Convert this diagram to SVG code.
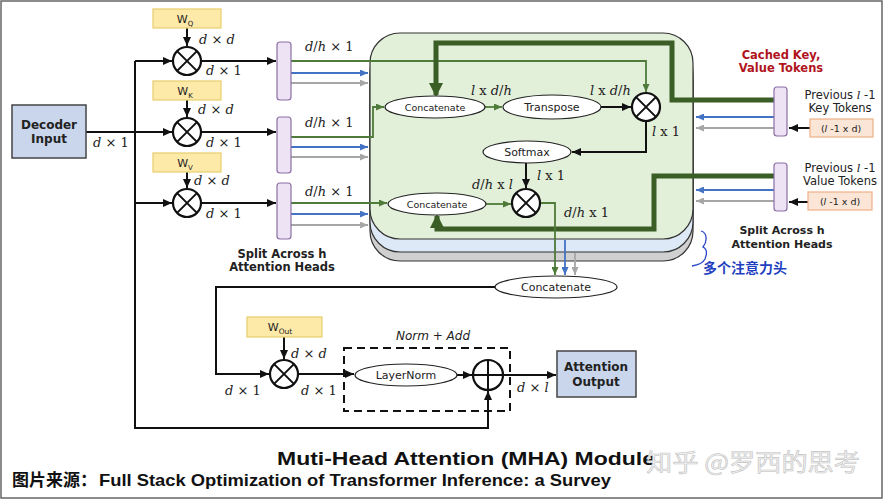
<svg xmlns="http://www.w3.org/2000/svg" width="884" height="500" viewBox="0 0 884 500">
<style>
.ln{fill:none;stroke:#111;stroke-width:2}
.gl{fill:none;stroke:#4e7a3a;stroke-width:1.8}
.gt{fill:none;stroke:#3a5e25;stroke-width:5}
.bl{fill:none;stroke:#4472c4;stroke-width:1.8}
.gr{fill:none;stroke:#a6a6a6;stroke-width:1.8}
.op{fill:#fff;stroke:#111;stroke-width:2.2}
.ell{fill:#fff;stroke:#222;stroke-width:1.2}
.w{fill:#fde9a8;stroke:#e6cf6e;stroke-width:1.2}
.bar{fill:#eee3f5;stroke:#8c6ea6;stroke-width:1.2}
.tok{fill:#fbe5d6;stroke:#eeb088;stroke-width:1.2}
.io{fill:#c9d6ec;stroke:#444;stroke-width:1.5}
.t{font-family:"DejaVu Sans","Liberation Sans",sans-serif;fill:#222;text-anchor:middle}
.b{font-weight:bold}
.m{font-family:"DejaVu Serif","Liberation Serif",serif;font-size:13px;fill:#222}
.i{font-style:italic}
</style>
<defs>
<marker id="ak" markerUnits="userSpaceOnUse" markerWidth="9" markerHeight="8" refX="9" refY="4" orient="auto"><path d="M0,0 L9,4 L0,8 z" fill="#111"/></marker>
<marker id="ag" markerUnits="userSpaceOnUse" markerWidth="8" markerHeight="7" refX="8" refY="3.5" orient="auto"><path d="M0,0 L8,3.5 L0,7 z" fill="#4e7a3a"/></marker>
<marker id="ab" markerUnits="userSpaceOnUse" markerWidth="8" markerHeight="7" refX="8" refY="3.5" orient="auto"><path d="M0,0 L8,3.5 L0,7 z" fill="#4472c4"/></marker>
<marker id="ay" markerUnits="userSpaceOnUse" markerWidth="8" markerHeight="7" refX="8" refY="3.5" orient="auto"><path d="M0,0 L8,3.5 L0,7 z" fill="#a6a6a6"/></marker>
<marker id="aG" markerUnits="userSpaceOnUse" markerWidth="14" markerHeight="14" refX="12" refY="7" orient="auto"><path d="M0,0 L14,7 L0,14 z" fill="#3a5e25"/></marker>
</defs>

<rect x="1" y="1" width="881" height="497" fill="#fff" stroke="#666" stroke-width="1.5"/>

<g id="heads-box">
<rect x="370" y="53" width="323" height="208" rx="30" fill="#d0d0d0" stroke="#333" stroke-width="1.2"/>
<rect x="370" y="43" width="323" height="209" rx="30" fill="#dde9f6" stroke="#333" stroke-width="1.2"/>
<rect x="370" y="33" width="323" height="206" rx="30" fill="#e2efd9" stroke="#333" stroke-width="1.2"/>
</g>

<g id="connectors">
<path class="ln" d="M86,132 H172" marker-end="url(#ak)"/>
<path class="ln" d="M135,61 H172" marker-end="url(#ak)"/>
<path class="ln" d="M135,203 H172" marker-end="url(#ak)"/>
<path class="ln" d="M135,61 V428 H488 V391" marker-end="url(#ak)"/>
<path class="ln" d="M187,28 V46" marker-end="url(#ak)"/>
<path class="ln" d="M187,100 V117" marker-end="url(#ak)"/>
<path class="ln" d="M187,172 V188" marker-end="url(#ak)"/>
<path class="ln" d="M201,61 H276" marker-end="url(#ak)"/>
<path class="ln" d="M201,132 H276" marker-end="url(#ak)"/>
<path class="ln" d="M201,203 H276" marker-end="url(#ak)"/>
<path class="gl" d="M291,61 H646 V92" marker-end="url(#ag)"/>
<path class="gl" d="M291,137 H373 V107 H384" marker-end="url(#ag)"/>
<path class="gl" d="M291,203 H387" marker-end="url(#ag)"/>
<path class="bl" d="M291,73 H368" marker-end="url(#ab)"/>
<path class="bl" d="M291,147 H368" marker-end="url(#ab)"/>
<path class="bl" d="M291,214 H368" marker-end="url(#ab)"/>
<path class="gr" d="M291,83 H368" marker-end="url(#ay)"/>
<path class="gr" d="M291,157 H368" marker-end="url(#ay)"/>
<path class="gr" d="M291,225 H368" marker-end="url(#ay)"/>
<path class="gt" d="M774,100 H672 V43 H436 V95" marker-end="url(#aG)"/>
<path class="gt" d="M774,176 H654 V229 H437 V216" marker-end="url(#aG)"/>
<path class="gl" d="M485,107 H502" marker-end="url(#ag)"/>
<path class="ln" d="M601,107 H631" marker-end="url(#ak)"/>
<path class="ln" d="M646,121 V152 H572" marker-end="url(#ak)"/>
<path class="ln" d="M526,163 V188" marker-end="url(#ak)"/>
<path class="gl" d="M486,204 H511" marker-end="url(#ag)"/>
<path class="gl" d="M540,203 H555 V275" marker-end="url(#ag)"/>
<path class="bl" d="M565,240 V275" marker-end="url(#ab)"/>
<path class="gr" d="M575,253 V275" marker-end="url(#ay)"/>
<path class="ln" d="M495,287 H216 V374 H269" marker-end="url(#ak)"/>
<path class="ln" d="M284,337 V359" marker-end="url(#ak)"/>
<path class="ln" d="M298,374 H354" marker-end="url(#ak)"/>
<path class="ln" d="M457,375 H472" marker-end="url(#ak)"/>
<path class="ln" d="M503,375 H556" marker-end="url(#ak)"/>
<path class="bl" d="M774,117 H696" marker-end="url(#ab)"/>
<path class="gr" d="M774,128 H696" marker-end="url(#ay)"/>
<path class="bl" d="M774,190 H696" marker-end="url(#ab)"/>
<path class="gr" d="M774,201 H696" marker-end="url(#ay)"/>
<path class="ln" d="M810,128 H789" marker-end="url(#ak)"/>
<path class="ln" d="M808,202 H789" marker-end="url(#ak)"/>
</g>

<g id="decoder-input">
<rect class="io" x="12" y="105" width="74" height="53"/>
<text class="t b" x="49" y="129" font-size="12">Decoder</text>
<text class="t b" x="49" y="143" font-size="12">Input</text>
</g>
<text class="m" x="93" y="147"><tspan class="i">d</tspan> × 1</text>

<g id="wq"><rect class="w" x="153" y="9" width="68" height="19"/><text class="t" x="185" y="23" font-size="11">W<tspan font-size="7" dy="3">Q</tspan></text></g>
<g id="wk"><rect class="w" x="153" y="81" width="68" height="19"/><text class="t" x="185" y="95" font-size="11">W<tspan font-size="7" dy="3">K</tspan></text></g>
<g id="wv"><rect class="w" x="153" y="153" width="68" height="19"/><text class="t" x="185" y="167" font-size="11">W<tspan font-size="7" dy="3">V</tspan></text></g>

<g id="mul-q"><circle class="op" cx="187" cy="61" r="14"/><path class="ln" d="M177.1,51.1 L196.9,70.9 M196.9,51.1 L177.1,70.9"/></g>
<g id="mul-k"><circle class="op" cx="187" cy="132" r="14"/><path class="ln" d="M177.1,122.1 L196.9,141.9 M196.9,122.1 L177.1,141.9"/></g>
<g id="mul-v"><circle class="op" cx="187" cy="203" r="14"/><path class="ln" d="M177.1,193.1 L196.9,212.9 M196.9,193.1 L177.1,212.9"/></g>

<text class="m" x="199" y="44"><tspan class="i">d</tspan> × <tspan class="i">d</tspan></text>
<text class="m" x="198" y="114"><tspan class="i">d</tspan> × <tspan class="i">d</tspan></text>
<text class="m" x="194" y="185"><tspan class="i">d</tspan> × <tspan class="i">d</tspan></text>
<text class="m" x="206" y="75"><tspan class="i">d</tspan> × 1</text>
<text class="m" x="206" y="147"><tspan class="i">d</tspan> × 1</text>
<text class="m" x="206" y="218"><tspan class="i">d</tspan> × 1</text>

<g id="split-q"><rect class="bar" x="277" y="42" width="14" height="58" rx="3"/></g>
<g id="split-k"><rect class="bar" x="277" y="117" width="14" height="56" rx="3"/></g>
<g id="split-v"><rect class="bar" x="277" y="183" width="14" height="56" rx="3"/></g>
<text class="m" x="305" y="51"><tspan class="i">d</tspan>/<tspan class="i">h</tspan> × 1</text>
<text class="m" x="305" y="127"><tspan class="i">d</tspan>/<tspan class="i">h</tspan> × 1</text>
<text class="m" x="305" y="196"><tspan class="i">d</tspan>/<tspan class="i">h</tspan> × 1</text>
<text class="t b" x="282" y="258" font-size="11.5">Split Across h</text>
<text class="t b" x="282" y="271" font-size="11.5">Attention Heads</text>

<g id="concat-k"><ellipse class="ell" cx="435" cy="107" rx="50" ry="11"/><text class="t" x="435" y="111" font-size="9.5">Concatenate</text></g>
<g id="transpose"><ellipse class="ell" cx="552" cy="107" rx="49" ry="12"/><text class="t" x="552" y="111" font-size="11">Transpose</text></g>
<g id="mul-score"><circle class="op" cx="646" cy="107" r="14"/><path class="ln" d="M636.1,97.1 L655.9,116.9 M655.9,97.1 L636.1,116.9"/></g>
<g id="softmax"><ellipse class="ell" cx="527" cy="152" rx="44" ry="11"/><text class="t" x="527" y="156" font-size="11">Softmax</text></g>
<g id="concat-v"><ellipse class="ell" cx="437" cy="204" rx="49" ry="11"/><text class="t" x="437" y="208" font-size="9.5">Concatenate</text></g>
<g id="mul-attn"><circle class="op" cx="526" cy="203" r="14"/><path class="ln" d="M516.1,193.1 L535.9,212.9 M535.9,193.1 L516.1,212.9"/></g>
<text class="m" x="471" y="95"><tspan class="i">l</tspan> x <tspan class="i">d</tspan>/<tspan class="i">h</tspan></text>
<text class="m" x="590" y="95"><tspan class="i">l</tspan> x <tspan class="i">d</tspan>/<tspan class="i">h</tspan></text>
<text class="m" x="652" y="136"><tspan class="i">l</tspan> x 1</text>
<text class="m" x="537" y="180"><tspan class="i">l</tspan> x 1</text>
<text class="m" x="472" y="189"><tspan class="i">d</tspan>/<tspan class="i">h</tspan> x <tspan class="i">l</tspan></text>
<text class="m" x="564" y="217"><tspan class="i">d</tspan>/<tspan class="i">h</tspan> x 1</text>

<g id="concat-out"><ellipse class="ell" cx="556" cy="287" rx="61" ry="11"/><text class="t" x="556" y="291" font-size="11">Concatenate</text></g>

<g id="wout"><rect class="w" x="247" y="317" width="75" height="20"/><text class="t" x="280" y="331" font-size="11">W<tspan font-size="7.5" dy="3">Out</tspan></text></g>
<g id="mul-out"><circle class="op" cx="284" cy="374" r="14"/><path class="ln" d="M274.1,364.1 L293.9,383.9 M293.9,364.1 L274.1,383.9"/></g>
<text class="m" x="291" y="358"><tspan class="i">d</tspan> × <tspan class="i">d</tspan></text>
<text class="m" x="225" y="395"><tspan class="i">d</tspan> × 1</text>
<text class="m" x="301" y="395"><tspan class="i">d</tspan> × 1</text>

<g id="norm-add">
<rect x="344" y="348" width="166" height="63" fill="none" stroke="#111" stroke-width="2" stroke-dasharray="8,5"/>
<text class="t i" x="433" y="340" font-size="12">Norm + Add</text>
</g>
<g id="layernorm"><ellipse class="ell" cx="406" cy="375" rx="51" ry="11"/><text class="t" x="406" y="379" font-size="11">LayerNorm</text></g>
<g id="add"><circle class="op" cx="488" cy="375" r="15"/><path class="ln" d="M473,375 H503 M488,360 V390"/></g>
<text class="m" x="517" y="392"><tspan class="i">d</tspan> × <tspan class="i">l</tspan></text>

<g id="attention-output">
<rect class="io" x="557" y="351" width="79" height="46"/>
<text class="t b" x="596" y="371" font-size="12">Attention</text>
<text class="t b" x="596" y="386" font-size="12">Output</text>
</g>

<text class="t b" x="781" y="59" font-size="11.5" style="fill:#b0141e">Cached Key,</text>
<text class="t b" x="781" y="72" font-size="11.5" style="fill:#b0141e">Value Tokens</text>

<g id="split-key"><rect class="bar" x="774" y="87" width="13" height="49" rx="3"/></g>
<g id="split-value"><rect class="bar" x="774" y="163" width="13" height="48" rx="3"/></g>
<text class="t" x="840" y="99" font-size="11.5">Previous <tspan class="i" font-family="DejaVu Serif,serif">l</tspan> -1</text>
<text class="t" x="840" y="112" font-size="11.5">Key Tokens</text>
<text class="t" x="840" y="172" font-size="11.5">Previous <tspan class="i" font-family="DejaVu Serif,serif">l</tspan> -1</text>
<text class="t" x="840" y="185" font-size="11.5">Value Tokens</text>
<g id="key-tokens"><rect class="tok" x="810" y="119" width="63" height="18"/><text class="t" x="841" y="132" font-size="9.5">(<tspan class="i">l</tspan> -1 x d)</text></g>
<g id="value-tokens"><rect class="tok" x="808" y="192" width="64" height="18"/><text class="t" x="840" y="205" font-size="9.5">(<tspan class="i">l</tspan> -1 x d)</text></g>
<text class="t b" x="782" y="234" font-size="11">Split Across h</text>
<text class="t b" x="782" y="248" font-size="11">Attention Heads</text>

<path d="M701,231 C708,233 707,242 703,247 C707,249 707,254 705,259 C703,263 698,265 692,266" fill="none" stroke="#2a46c8" stroke-width="1.3"/>
<text x="703" y="273" font-family="'Noto Sans CJK SC',sans-serif" font-weight="bold" font-size="14" fill="#1f3fc0">多个注意力头</text>

<text x="466" y="465" text-anchor="middle" font-family="'Liberation Sans',Arial,sans-serif" font-weight="bold" font-size="19" fill="#111" textLength="378" lengthAdjust="spacingAndGlyphs">Muti-Head Attention (MHA) Module</text>
<text x="646" y="471" font-family="'Noto Sans CJK SC',sans-serif" font-size="24" fill="#f0f0f0" stroke="#c4c4c4" stroke-width="0.6" textLength="214" lengthAdjust="spacingAndGlyphs">知乎 @罗西的思考</text>
<text x="12" y="486" font-family="'Noto Sans CJK SC',sans-serif" font-weight="bold" font-size="17" fill="#111">图片来源：</text>
<text x="99" y="486" font-family="'Liberation Sans',Arial,sans-serif" font-weight="bold" font-size="17" fill="#111" textLength="512" lengthAdjust="spacingAndGlyphs">Full Stack Optimization of Transformer Inference: a Survey</text>
</svg>
